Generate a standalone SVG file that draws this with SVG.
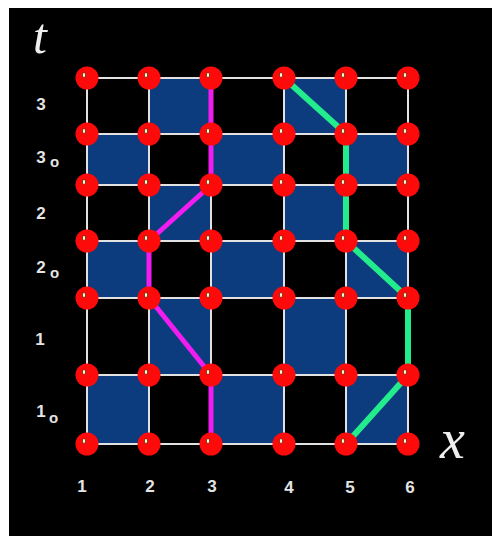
<svg xmlns="http://www.w3.org/2000/svg" width="492" height="536" viewBox="0 0 492 536">
<defs>
<style>
.grid line{stroke:#e2e2e2;stroke-width:2}
.sq{fill:#0c3c7e}
.mag{fill:none;stroke:#f01cf0;stroke-width:5;stroke-linejoin:round}
.grn{fill:none;stroke:#22ec8c;stroke-width:6;stroke-linejoin:round}
.ndc{fill:#ff0a0a}
.ndd{fill:#fff8d0;stroke:#5a2000;stroke-width:0.7}
.lb{font-family:"Liberation Sans",Arial,sans-serif;font-size:17px;font-weight:bold;fill:#e4e4e4;text-anchor:middle}
.sub{font-family:"Liberation Sans",Arial,sans-serif;font-size:15px;font-weight:bold;fill:#e4e4e4}
.sc{font-family:"Liberation Serif","Times New Roman",serif;font-style:italic;fill:#eeeeee}
</style>
<g id="n"><circle class="ndc" r="11.5"/><ellipse class="ndd" cx="-3" cy="-3" rx="1.6" ry="2.6"/></g>
</defs>
<rect x="0" y="0" width="492" height="536" fill="#ffffff"/>
<rect x="9" y="8" width="483" height="528" fill="#000000"/>
<g id="board">
<rect class="sq" x="149" y="78" width="62" height="56"/>
<rect class="sq" x="284" y="78" width="62" height="56"/>
<rect class="sq" x="87" y="134" width="62" height="51"/>
<rect class="sq" x="211" y="134" width="73" height="51"/>
<rect class="sq" x="346" y="134" width="62" height="51"/>
<rect class="sq" x="149" y="185" width="62" height="56"/>
<rect class="sq" x="284" y="185" width="62" height="56"/>
<rect class="sq" x="87" y="241" width="62" height="57"/>
<rect class="sq" x="211" y="241" width="73" height="57"/>
<rect class="sq" x="346" y="241" width="62" height="57"/>
<rect class="sq" x="149" y="298" width="62" height="77"/>
<rect class="sq" x="284" y="298" width="62" height="77"/>
<rect class="sq" x="87" y="375" width="62" height="69"/>
<rect class="sq" x="211" y="375" width="73" height="69"/>
<rect class="sq" x="346" y="375" width="62" height="69"/>
</g>
<g id="connectors">
<g class="grid">
<line x1="87" y1="78" x2="408" y2="78"/>
<line x1="87" y1="134" x2="408" y2="134"/>
<line x1="87" y1="185" x2="408" y2="185"/>
<line x1="87" y1="241" x2="408" y2="241"/>
<line x1="87" y1="298" x2="408" y2="298"/>
<line x1="87" y1="375" x2="408" y2="375"/>
<line x1="87" y1="444" x2="408" y2="444"/>
<line x1="87" y1="78" x2="87" y2="444"/>
<line x1="149" y1="78" x2="149" y2="444"/>
<line x1="211" y1="78" x2="211" y2="444"/>
<line x1="284" y1="78" x2="284" y2="444"/>
<line x1="346" y1="78" x2="346" y2="444"/>
<line x1="408" y1="78" x2="408" y2="444"/>
</g>
<polyline id="path-magenta" class="mag" points="211,78 211,185 149,241 149,298 211,375 211,444"/>
<polyline id="path-green" class="grn" points="284,78 346,134 346,241 408,298 408,375 346,444"/>
</g>
<g id="nodes">
<g id="n-1-0"><use href="#n" x="87" y="78"/></g>
<g id="n-2-0"><use href="#n" x="149" y="78"/></g>
<g id="n-3-0"><use href="#n" x="211" y="78"/></g>
<g id="n-4-0"><use href="#n" x="284" y="78"/></g>
<g id="n-5-0"><use href="#n" x="346" y="78"/></g>
<g id="n-6-0"><use href="#n" x="408" y="78"/></g>
<g id="n-1-1"><use href="#n" x="87" y="134"/></g>
<g id="n-2-1"><use href="#n" x="149" y="134"/></g>
<g id="n-3-1"><use href="#n" x="211" y="134"/></g>
<g id="n-4-1"><use href="#n" x="284" y="134"/></g>
<g id="n-5-1"><use href="#n" x="346" y="134"/></g>
<g id="n-6-1"><use href="#n" x="408" y="134"/></g>
<g id="n-1-2"><use href="#n" x="87" y="185"/></g>
<g id="n-2-2"><use href="#n" x="149" y="185"/></g>
<g id="n-3-2"><use href="#n" x="211" y="185"/></g>
<g id="n-4-2"><use href="#n" x="284" y="185"/></g>
<g id="n-5-2"><use href="#n" x="346" y="185"/></g>
<g id="n-6-2"><use href="#n" x="408" y="185"/></g>
<g id="n-1-3"><use href="#n" x="87" y="241"/></g>
<g id="n-2-3"><use href="#n" x="149" y="241"/></g>
<g id="n-3-3"><use href="#n" x="211" y="241"/></g>
<g id="n-4-3"><use href="#n" x="284" y="241"/></g>
<g id="n-5-3"><use href="#n" x="346" y="241"/></g>
<g id="n-6-3"><use href="#n" x="408" y="241"/></g>
<g id="n-1-4"><use href="#n" x="87" y="298"/></g>
<g id="n-2-4"><use href="#n" x="149" y="298"/></g>
<g id="n-3-4"><use href="#n" x="211" y="298"/></g>
<g id="n-4-4"><use href="#n" x="284" y="298"/></g>
<g id="n-5-4"><use href="#n" x="346" y="298"/></g>
<g id="n-6-4"><use href="#n" x="408" y="298"/></g>
<g id="n-1-5"><use href="#n" x="87" y="375"/></g>
<g id="n-2-5"><use href="#n" x="149" y="375"/></g>
<g id="n-3-5"><use href="#n" x="211" y="375"/></g>
<g id="n-4-5"><use href="#n" x="284" y="375"/></g>
<g id="n-5-5"><use href="#n" x="346" y="375"/></g>
<g id="n-6-5"><use href="#n" x="408" y="375"/></g>
<g id="n-1-6"><use href="#n" x="87" y="444"/></g>
<g id="n-2-6"><use href="#n" x="149" y="444"/></g>
<g id="n-3-6"><use href="#n" x="211" y="444"/></g>
<g id="n-4-6"><use href="#n" x="284" y="444"/></g>
<g id="n-5-6"><use href="#n" x="346" y="444"/></g>
<g id="n-6-6"><use href="#n" x="408" y="444"/></g>
</g>
<g id="labels">
<text class="sc" x="33" y="53" font-size="50">t</text>
<text class="sc" x="440" y="458" font-size="56">x</text>
<text class="lb" x="41" y="110">3</text>
<text class="lb" x="41" y="163">3</text><text class="sub" x="50" y="167">o</text>
<text class="lb" x="41" y="219">2</text>
<text class="lb" x="41" y="273">2</text><text class="sub" x="50" y="278">o</text>
<text class="lb" x="40" y="345">1</text>
<text class="lb" x="41" y="417">1</text><text class="sub" x="49" y="423">o</text>
<text class="lb" x="82" y="492">1</text>
<text class="lb" x="150" y="492">2</text>
<text class="lb" x="212" y="492">3</text>
<text class="lb" x="289" y="493">4</text>
<text class="lb" x="350" y="493">5</text>
<text class="lb" x="410" y="493">6</text>
</g>
</svg>
